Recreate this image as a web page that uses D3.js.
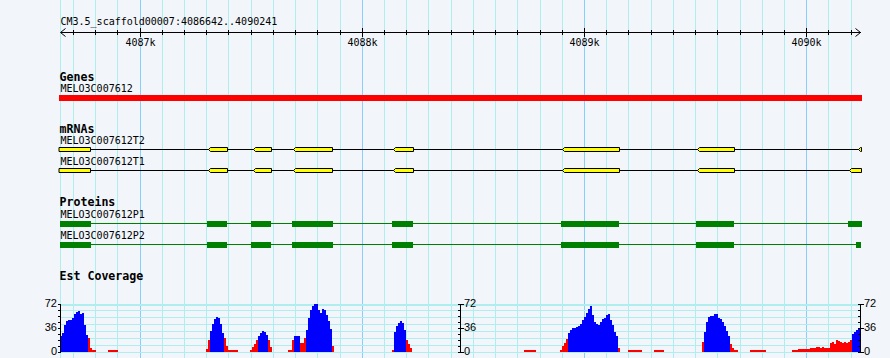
<!DOCTYPE html>
<html><head><meta charset="utf-8">
<script src="https://cdn.jsdelivr.net/npm/d3@7"></script>
<style>body{margin:0;background:#f2f5fa;overflow:hidden}</style>
</head><body><svg id="c" width="890" height="358"></svg>
<script>
// ---------------- data ----------------
const refName = "CM3.5_scaffold00007";
const viewStart = 4086642, viewEnd = 4090241;
const majorTicks = [4087000, 4088000, 4089000, 4090000];
const majorTickLabels = ["4087k", "4088k", "4089k", "4090k"];

const trackTitles = ["Genes", "mRNAs", "Proteins", "Est Coverage"];

const geneNames = ["MELO3C007612"];
const geneSpans = [[4086400, 4090500]];

const mrnaNames = ["MELO3C007612T2", "MELO3C007612T1"];
const mrnaExonsT2 = [[4086400, 4086776], [4087307, 4087390], [4087507, 4087588], [4087688, 4087865],
                     [4088140, 4088227], [4088900, 4089154], [4089508, 4089671], [4090229, 4090500]];
const mrnaExonsT1 = [[4086400, 4086776], [4087307, 4087390], [4087507, 4087588], [4087688, 4087865],
                     [4088140, 4088227], [4088900, 4089154], [4089508, 4089671], [4090192, 4090500]];

const proteinNames = ["MELO3C007612P1", "MELO3C007612P2"];
const proteinCdsP1 = [[4086400, 4086779], [4087301, 4087391], [4087499, 4087589], [4087685, 4087867],
                      [4088134, 4088228], [4088894, 4089155], [4089502, 4089673], [4090186, 4090500]];
const proteinCdsP2 = [[4086400, 4086779], [4087301, 4087391], [4087499, 4087589], [4087685, 4087867],
                      [4088134, 4088228], [4088894, 4089155], [4089502, 4089673], [4090222, 4090242]];

// Est coverage: runs of bins (9 bp each), start positions and values
const covMax = 72;
const covAxisLabels = [0, 36, 72];
const covStep = 9;
const covThreshold = 22;
const covStarts = [4086640, 4086856, 4087297, 4087495, 4087666, 4088134, 4088728,
                   4088890, 4089196, 4089313, 4089529, 4089745, 4089934];
const covRunA = [24, 28, 40, 46, 48, 48, 50, 56, 59, 61, 56, 58, 40, 25, 20, 6, 2, 2];
const covRunB = [2, 2, 2, 2, 2];
const covRunC = [4, 17, 31, 42, 49, 52, 50, 42, 28, 20, 8, 2, 2, 2, 2, 2];
const covRunD = [3, 7, 12, 18, 24, 28, 31, 30, 25, 18, 7];
const covRunE = [2, 2, 18, 23, 23, 23, 13, 13, 20, 32, 50, 62, 68, 71, 72, 62, 58, 64, 62, 55, 46, 34, 8];
const covRunF = [3, 30, 38, 43, 46, 43, 32, 18, 12, 5];
const covRunG = [2, 2, 2, 2, 2, 2];
const covRunH = [3, 8, 13, 19, 28, 33, 35, 36, 37, 39, 42, 47, 52, 58, 64, 68, 55, 45, 41, 40,
                 45, 49, 51, 55, 56, 47, 40, 30, 23, 6];
const covRunI = [2, 2, 2, 2, 2, 2, 2];
const covRunJ = [2, 2, 2, 2, 2];
const covRunK = [14, 30, 45, 52, 54, 54, 56, 56, 50, 49, 45, 39, 31, 24, 12, 6, 3, 2];
const covRunL = [2, 2, 2, 2, 2, 2, 2, 2];
const covRunM = [2, 2, 2.5, 3.5, 3.5, 4.5, 4.5, 4.5, 4.5, 5.5, 6, 6, 6.5, 7, 6, 6.5, 5.5, 5.5, 6,
                 13, 14, 12, 17, 16, 14, 13, 15, 13, 15, 17, 26, 29, 33, 36];
const covRuns = [covRunA, covRunB, covRunC, covRunD, covRunE, covRunF, covRunG,
                 covRunH, covRunI, covRunJ, covRunK, covRunL, covRunM];

// ---------------- drawing ----------------
const W = 890, H = 358;
const svg = d3.select("#c");
const x = d3.scaleLinear().domain([viewStart, viewEnd + 1]).range([60.5, 860.5]);
const clipL = 59, clipR = 862;
const cx = v => Math.max(clipL, Math.min(clipR, x(v)));

const MONO = "'DejaVu Sans Mono', monospace";
const SANS = "'Liberation Sans', Arial, sans-serif";
const minorGrid = "#afeeee", majorGrid = "#87cefa";

svg.append("rect").attr("width", W).attr("height", H).attr("fill", "#f2f5fa");

// vertical grid
const gridG = svg.append("g").attr("shape-rendering", "crispEdges");
const gridPos = [viewStart].concat(d3.range(Math.ceil(viewStart / 100) * 100, viewEnd + 1, 100));
gridG.selectAll("line").data(gridPos).join("line")
  .attr("x1", d => Math.floor(x(d)) + 0.5).attr("x2", d => Math.floor(x(d)) + 0.5)
  .attr("y1", 0).attr("y2", H)
  .attr("stroke", d => (d % 1000 === 0 ? majorGrid : minorGrid)).attr("stroke-width", 1);

// ruler
const rulerY = 32.5;
const ruler = svg.append("g").attr("stroke", "#000").attr("fill", "none");
ruler.append("line").attr("x1", x(viewStart)).attr("x2", x(viewEnd + 1))
  .attr("y1", rulerY).attr("y2", rulerY).attr("shape-rendering", "crispEdges");
ruler.append("path").attr("d", `M${x(viewStart) + 5},${rulerY - 4}L${x(viewStart)},${rulerY}L${x(viewStart) + 5},${rulerY + 4}`);
ruler.append("path").attr("d", `M${x(viewEnd + 1) - 5},${rulerY - 4}L${x(viewEnd + 1)},${rulerY}L${x(viewEnd + 1) - 5},${rulerY + 4}`);
const tickPos = d3.range(Math.ceil(viewStart / 100) * 100, viewEnd + 1, 100);
ruler.selectAll("line.t").data(tickPos).join("line").attr("class", "t")
  .attr("shape-rendering", "crispEdges")
  .attr("x1", d => Math.floor(x(d)) + 0.5).attr("x2", d => Math.floor(x(d)) + 0.5)
  .attr("y1", d => d % 1000 === 0 ? rulerY - 4.5 : rulerY - 2.5)
  .attr("y2", d => d % 1000 === 0 ? rulerY + 4 : rulerY + 2.5);

svg.append("text").attr("x", 60.5).attr("y", 24.5)
  .attr("font-family", MONO).attr("font-size", 10).attr("fill", "#000")
  .text(`${refName}:${viewStart}..${viewEnd}`);
svg.append("g").selectAll("text").data(majorTicks).join("text")
  .attr("x", d => Math.floor(x(d)) + 0.5).attr("y", 45.5).attr("text-anchor", "middle")
  .attr("font-family", MONO).attr("font-size", 10).attr("fill", "#000")
  .text((d, i) => majorTickLabels[i]);

function title(t, y) {
  svg.append("text").attr("x", 59.5).attr("y", y).attr("font-family", MONO)
    .attr("font-weight", "bold").attr("font-size", 11.6).attr("fill", "#000").text(t);
}
function label(t, y) {
  svg.append("text").attr("x", 60.5).attr("y", y).attr("font-family", MONO)
    .attr("font-size", 10).attr("fill", "#000").text(t);
}

// Genes
title(trackTitles[0], 80.5);
label(geneNames[0], 92.3);
svg.append("g").attr("shape-rendering", "crispEdges").selectAll("rect").data(geneSpans).join("rect")
  .attr("x", d => cx(d[0])).attr("width", d => cx(d[1]) - cx(d[0]))
  .attr("y", 95).attr("height", 6).attr("fill", "#ff0000");

// mRNAs
title(trackTitles[1], 132.7);
function drawMrna(exons, name, labelY, midY) {
  label(name, labelY);
  svg.append("line").attr("x1", clipL).attr("x2", clipR - 0.5).attr("y1", midY).attr("y2", midY)
    .attr("stroke", "#000").attr("shape-rendering", "crispEdges");
  const top = midY - 2, bot = midY + 2;
  svg.append("g").selectAll("path").data(exons).join("path")
    .attr("d", d => {
      const clippedL = x(d[0]) < clipL;
      const x0 = clippedL ? clipL : Math.round(x(d[0])) + 0.5;
      const x1 = x(d[1]) > clipR ? clipR - 0.5 : Math.round(x(d[1])) + 0.5;
      if (clippedL) return `M${x0},${top}H${x1}V${bot}H${x0}Z`;
      return `M${x0},${midY}L${x0 + 2},${top}H${x1}V${bot}H${x0 + 2}Z`;
    })
    .attr("fill", "#ffff00").attr("stroke", "#000").attr("stroke-width", 1);
}
drawMrna(mrnaExonsT2, mrnaNames[0], 143.7, 149.5);
drawMrna(mrnaExonsT1, mrnaNames[1], 164.9, 170.5);

// Proteins
title(trackTitles[2], 206);
function drawProtein(cds, name, labelY, boxY) {
  label(name, labelY);
  const g = svg.append("g").attr("shape-rendering", "crispEdges");
  g.append("line").attr("x1", 60).attr("x2", d3.min([clipR, x(cds[cds.length - 1][1])]))
    .attr("y1", boxY + 2.5).attr("y2", boxY + 2.5).attr("stroke", "#008000");
  g.selectAll("rect").data(cds).join("rect")
    .attr("x", d => Math.max(60, x(d[0]))).attr("width", d => Math.min(clipR, x(d[1])) - Math.max(60, x(d[0])))
    .attr("y", boxY).attr("height", 6).attr("fill", "#008000");
}
drawProtein(proteinCdsP1, proteinNames[0], 217.7, 221);
drawProtein(proteinCdsP2, proteinNames[1], 239, 242);

// Est Coverage
title(trackTitles[3], 279.7);
const y = d3.scaleLinear().domain([0, covMax]).range([351.5, 303.5]);
const hg = svg.append("g").attr("shape-rendering", "crispEdges");
const hGrid = d3.range(0, 8).map(k => 303.5 + k * 48 / 7);
hg.selectAll("line").data(hGrid).join("line")
  .attr("x1", 60).attr("x2", 861).attr("y1", d => Math.round(d) + 0.5).attr("y2", d => Math.round(d) + 0.5)
  .attr("stroke", minorGrid).attr("stroke-width", (d, i) => i === 0 ? 2 : 1);

const bins = [];
covRuns.forEach((vals, i) => vals.forEach((v, j) => {
  const b0 = covStarts[i] + j * covStep;
  bins.push({ b0, b1: b0 + covStep, v });
}));
svg.append("g").attr("shape-rendering", "crispEdges").selectAll("rect").data(bins).join("rect")
  .attr("x", d => Math.max(60, x(d.b0)))
  .attr("width", d => Math.min(861, x(d.b1)) - Math.max(60, x(d.b0)))
  .attr("y", d => y(d.v)).attr("height", d => y(0) - y(d.v))
  .attr("fill", d => d.v >= covThreshold ? "#0000ff" : "#ff0000");

// three axes
const axisX = [x(viewStart), (x(viewStart) + x(viewEnd + 1)) / 2, x(viewEnd + 1)];
const tickVals = d3.range(0, covMax + 1, 9);
axisX.forEach((ax, k) => {
  const g = svg.append("g").attr("stroke", "#000").attr("shape-rendering", "crispEdges");
  g.append("line").attr("x1", ax).attr("x2", ax).attr("y1", y(covMax)).attr("y2", y(0) + 0.5);
  g.selectAll("line.t").data(tickVals).join("line").attr("class", "t")
    .attr("y1", d => Math.round(y(d)) + 0.5).attr("y2", d => Math.round(y(d)) + 0.5)
    .attr("x1", d => ax - 3)
    .attr("x2", d => covAxisLabels.includes(d) ? (k === 0 ? ax : ax + 3) : ax);
  svg.append("g").selectAll("text").data(covAxisLabels).join("text")
    .attr("x", k === 0 ? ax - 3.5 : ax + 3.5)
    .attr("y", d => y(d)).attr("dy", "0.36em")
    .attr("text-anchor", k === 0 ? "end" : "start")
    .attr("font-family", SANS).attr("font-size", 11).attr("fill", "#000")
    .text(d => d);
});
</script>
</body></html>
